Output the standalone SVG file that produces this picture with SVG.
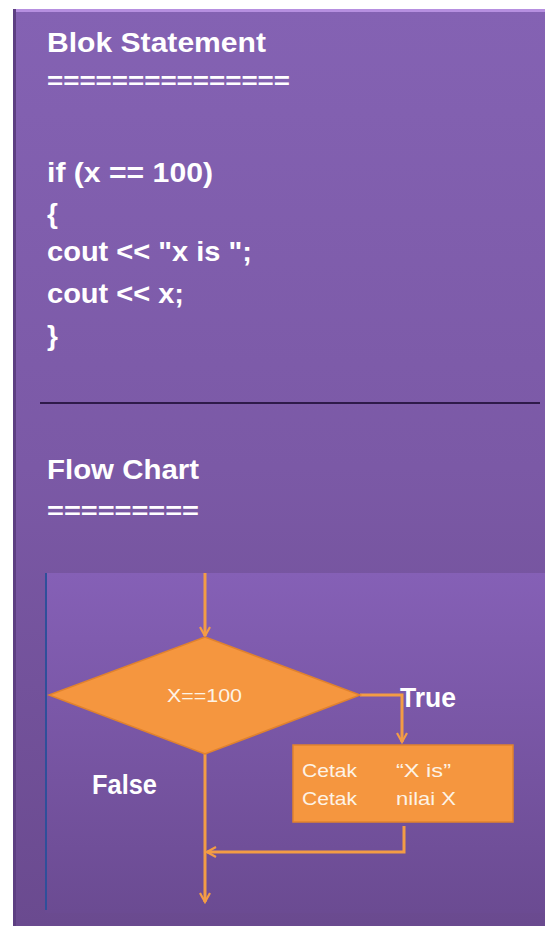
<svg xmlns="http://www.w3.org/2000/svg" width="545" height="932" viewBox="0 0 545 932">
<defs>
<linearGradient id="bg" x1="0" y1="0" x2="0" y2="1">
<stop offset="0" stop-color="#8462b3"/>
<stop offset="0.5" stop-color="#7b59a6"/>
<stop offset="1" stop-color="#6a4a8f"/>
</linearGradient>
<linearGradient id="fc" x1="0" y1="0" x2="0" y2="1">
<stop offset="0" stop-color="#8560b6"/>
<stop offset="1" stop-color="#6b4b92"/>
</linearGradient>
<marker id="ah" viewBox="0 0 12 12" refX="10" refY="6" markerWidth="12" markerHeight="12" markerUnits="userSpaceOnUse" orient="auto">
<path d="M1,1 L10,6 L1,11" fill="none" stroke="#f39c45" stroke-width="2.2"/>
</marker>
<style>
.h{font-family:"Liberation Sans",Arial,sans-serif;font-weight:bold;fill:#ffffff;font-size:28px}
.e{font-family:"Liberation Sans",Arial,sans-serif;font-weight:bold;fill:#ffffff;font-size:24px}
.t{font-family:"Liberation Sans",Arial,sans-serif;fill:#fdf3e6;font-size:19px}
.c{fill:none;stroke:#f39c45;stroke-width:3}
.shape{fill:#f5963f;stroke:#e0822e;stroke-width:1.5}
</style>
</defs>
<rect x="0" y="0" width="545" height="932" fill="#ffffff"/>
<rect x="13" y="9" width="532" height="917" fill="url(#bg)"/>
<rect x="13" y="9" width="532" height="3" fill="#b68fe0"/>
<rect x="13" y="9" width="3" height="917" fill="#5d3f82"/>
<g id="code">
<text class="h" x="47" y="52" textLength="219" lengthAdjust="spacingAndGlyphs">Blok Statement</text>
<text class="e" x="47" y="89" textLength="243" lengthAdjust="spacingAndGlyphs">===============</text>
<text class="h" x="47" y="182" textLength="166" lengthAdjust="spacingAndGlyphs">if (x == 100)</text>
<text class="h" x="47" y="223">{</text>
<text class="h" x="47" y="261" textLength="205" lengthAdjust="spacingAndGlyphs">cout &lt;&lt; "x is ";</text>
<text class="h" x="47" y="303" textLength="137" lengthAdjust="spacingAndGlyphs">cout &lt;&lt; x;</text>
<text class="h" x="47" y="345">}</text>
</g>
<line x1="40" y1="403" x2="540" y2="403" stroke="#2e1a4a" stroke-width="2"/>
<g id="fctitle">
<text class="h" x="47" y="479" textLength="152" lengthAdjust="spacingAndGlyphs">Flow Chart</text>
<text class="e" x="47" y="519" textLength="152" lengthAdjust="spacingAndGlyphs">=========</text>
</g>
<rect x="45" y="573" width="500" height="340" fill="url(#fc)"/>
<line x1="46" y1="573" x2="46" y2="910" stroke="#2f4f9a" stroke-width="2"/>
<g id="connectors">
<line class="c" x1="205" y1="573" x2="205" y2="636" marker-end="url(#ah)"/>
<polyline class="c" points="360,695 402,695 402,742" marker-end="url(#ah)"/>
<line class="c" x1="205" y1="754" x2="205" y2="902" marker-end="url(#ah)"/>
<polyline class="c" points="404,826 404,852 207,852" marker-end="url(#ah)"/>
</g>
<g id="decision">
<polygon class="shape" points="205,637 360,695 205,754 49,695"/>
<text class="t" x="167" y="702" textLength="75" lengthAdjust="spacingAndGlyphs">X==100</text>
</g>
<g id="process">
<rect class="shape" x="293" y="745" width="220" height="77"/>
<text class="t" x="302" y="777" textLength="55" lengthAdjust="spacingAndGlyphs">Cetak</text>
<text class="t" x="396" y="777" textLength="55" lengthAdjust="spacingAndGlyphs">“X is”</text>
<text class="t" x="302" y="805" textLength="55" lengthAdjust="spacingAndGlyphs">Cetak</text>
<text class="t" x="396" y="805" textLength="60" lengthAdjust="spacingAndGlyphs">nilai X</text>
</g>
<text class="h" x="400" y="707" textLength="56" lengthAdjust="spacingAndGlyphs">True</text>
<text class="h" x="92" y="794" textLength="65" lengthAdjust="spacingAndGlyphs">False</text>
</svg>
